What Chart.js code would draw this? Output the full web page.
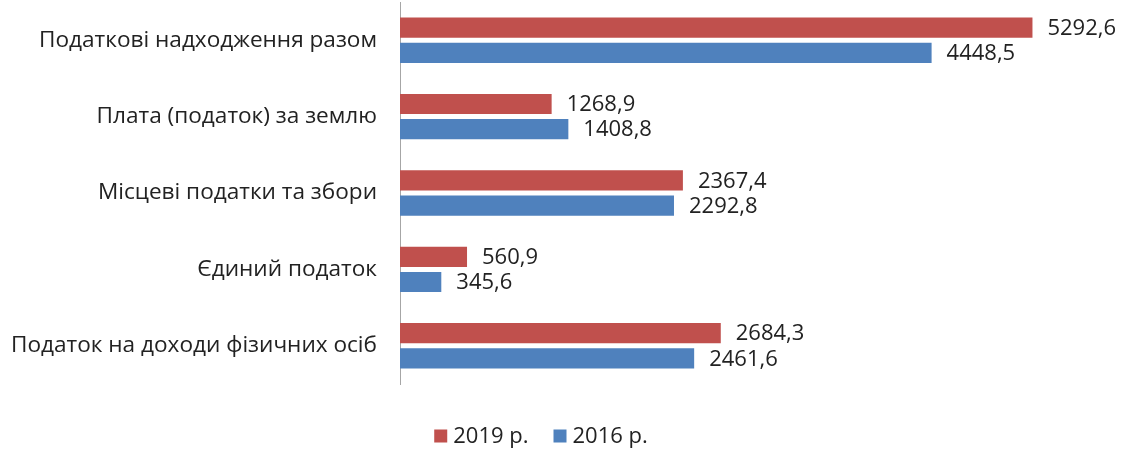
<!DOCTYPE html>
<html lang="uk">
<head>
  <meta charset="UTF-8" />
  <title>Податкові надходження</title>
  <script src="https://cdn.jsdelivr.net/npm/chart.js"></script>
  <style>
    html, body { margin: 0; padding: 0; background: #fff; }
  </style>
</head>
<body>
  <canvas id="taxChart" width="1129" height="450"></canvas>

  <script>
    // data
    const categories = [
      'Податкові надходження разом',
      'Плата (податок) за землю',
      'Місцеві податки та збори',
      'Єдиний податок',
      'Податок на доходи фізичних осіб'
    ];
    const seriesNames = ['2019 р.', '2016 р.'];
    const values2019 = [5292.6, 1268.9, 2367.4, 560.9, 2684.3];
    const values2016 = [4448.5, 1408.8, 2292.8, 345.6, 2461.6];
    const xMax = 6000;

    const FONT = '"Open Sans", sans-serif';
    const FSIZE = 22;
    const TEXT = '#222';

    const fmt = v => v.toFixed(1).replace('.', ',');

    // numbers at the end of each bar
    const valueLabels = {
      id: 'valueLabels',
      afterDatasetsDraw(chart) {
        const ctx = chart.ctx;
        ctx.save();
        ctx.font = FSIZE + 'px ' + FONT;
        ctx.fillStyle = TEXT;
        ctx.textBaseline = 'middle';
        ctx.textAlign = 'left';
        chart.data.datasets.forEach((ds, i) => {
          chart.getDatasetMeta(i).data.forEach((bar, j) => {
            ctx.fillText(fmt(ds.data[j]), bar.x + 15, bar.y + 1);
          });
        });
        ctx.restore();
      }
    };

    // legend drawn below the plot
    const bottomLegend = {
      id: 'bottomLegend',
      afterDraw(chart) {
        const ctx = chart.ctx;
        ctx.save();
        ctx.font = FSIZE + 'px ' + FONT;
        ctx.textBaseline = 'middle';
        ctx.textAlign = 'left';
        const box = 13, gapBox = 6, gapItem = 25, cy = 436;
        const items = chart.data.datasets.map(ds => ({
          text: ds.label, color: ds.backgroundColor, w: ctx.measureText(ds.label).width
        }));
        const total = items.reduce((s, it) => s + box + gapBox + it.w, 0) + gapItem * (items.length - 1);
        let x = 541 - total / 2;
        items.forEach(it => {
          ctx.fillStyle = it.color;
          ctx.fillRect(x, cy - box / 2, box, box);
          x += box + gapBox;
          ctx.fillStyle = TEXT;
          ctx.fillText(it.text, x, cy + 1);
          x += it.w + gapItem;
        });
        ctx.restore();
      }
    };

    new Chart(document.getElementById('taxChart'), {
      type: 'bar',
      data: {
        labels: categories,
        datasets: [
          { label: seriesNames[0], data: values2019, backgroundColor: '#C0504D' },
          { label: seriesNames[1], data: values2016, backgroundColor: '#4F81BD' }
        ]
      },
      options: {
        indexAxis: 'y',
        responsive: false,
        animation: false,
        categoryPercentage: 0.66,
        barPercentage: 0.8,
        layout: { padding: { top: 2, right: 12, left: 0, bottom: 66 } },
        plugins: { legend: { display: false }, tooltip: { enabled: false } },
        scales: {
          x: { min: 0, max: xMax, display: false },
          y: {
            grid: { display: false, drawTicks: false },
            border: { display: true, color: '#a6a6a6', width: 1 },
            ticks: { color: TEXT, padding: 23, font: { family: FONT, size: 22.6 } },
            afterFit(s) {
              s.width = 400;
              // tick padding would otherwise push the plot down
              s.paddingTop = 0;
              s.paddingBottom = 0;
            }
          }
        }
      },
      plugins: [valueLabels, bottomLegend]
    });
  </script>
</body>
</html>
